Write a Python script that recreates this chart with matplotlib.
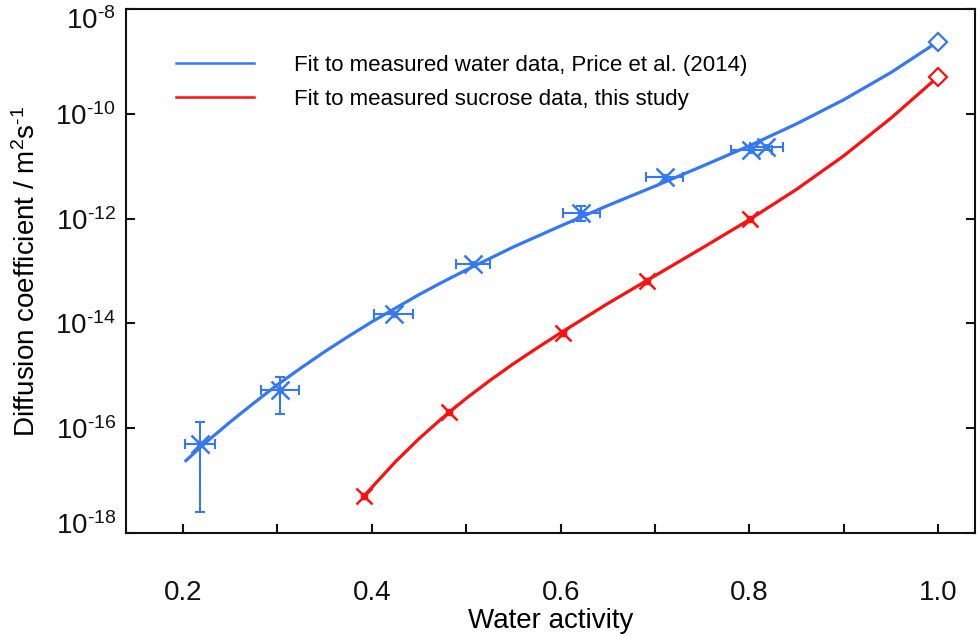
import numpy as np
import matplotlib
matplotlib.use("Agg")
import matplotlib.pyplot as plt
import matplotlib.transforms as mtransforms
from matplotlib.lines import Line2D
from matplotlib.ticker import FixedLocator, MultipleLocator, NullLocator, FuncFormatter

# =========================
# DATA
# =========================
# measured water diffusion (Price et al. 2014)
water_aw = [0.218, 0.303, 0.423, 0.507, 0.622, 0.710, 0.802, 0.818]
water_D = [4.9e-17, 5.4e-16, 1.5e-14, 1.35e-13, 1.26e-12, 6.2e-12, 2.0e-11, 2.3e-11]
water_aw_err = [0.016, 0.020, 0.021, 0.018, 0.020, 0.020, 0.022, 0.017]

# points that also carry a vertical error bar
water_yerr_aw = [0.218, 0.303, 0.622]
water_yerr_D = [4.9e-17, 5.4e-16, 1.26e-12]
water_yerr_low = [2.5e-18, 1.86e-16, 8.9e-13]
water_yerr_high = [1.32e-16, 9.5e-16, 1.74e-12]

# measured sucrose diffusion (this study)
sucrose_aw = [0.392, 0.482, 0.602, 0.691, 0.801]
sucrose_D = [5.1e-18, 2.0e-16, 6.6e-15, 6.5e-14, 9.8e-13]

# pure water limits (aw = 1)
pure_aw = 1.0
pure_water_D = 2.4e-9
pure_sucrose_D = 5.1e-10

# fit curves, log10(D)
water_fit_aw = [0.203, 0.225, 0.250, 0.275, 0.300, 0.325, 0.350, 0.375, 0.400, 0.425,
                0.450, 0.475, 0.500, 0.550, 0.600, 0.650, 0.700, 0.750, 0.800, 0.850,
                0.900, 0.950, 1.000]
water_fit_logD = [-16.62, -16.26, -15.88, -15.52, -15.17, -14.85, -14.54, -14.25, -13.97, -13.71,
                  -13.45, -13.21, -12.98, -12.54, -12.14, -11.75, -11.38, -11.00, -10.61, -10.19,
                  -9.73, -9.21, -8.62]

sucrose_fit_aw = [0.392, 0.400, 0.425, 0.450, 0.475, 0.500, 0.525, 0.550, 0.575, 0.600,
                  0.650, 0.700, 0.750, 0.800, 0.850, 0.900, 0.950, 1.000]
sucrose_fit_logD = [-17.29, -17.13, -16.64, -16.20, -15.80, -15.43, -15.09, -14.77, -14.47, -14.18,
                    -13.62, -13.09, -12.56, -12.02, -11.44, -10.80, -10.08, -9.29]

legend_labels = ["Fit to measured water data, Price et al. (2014)",
                 "Fit to measured sucrose data, this study"]

BLUE = "#3478f6"
RED = "#ff1010"

# =========================
# STYLE
# =========================
plt.rcParams["font.family"] = ["Liberation Sans", "DejaVu Sans"]
plt.rcParams["mathtext.fontset"] = "custom"
plt.rcParams["mathtext.rm"] = "Liberation Sans"
plt.rcParams["mathtext.it"] = "Liberation Sans:italic"
plt.rcParams["mathtext.default"] = "regular"

fig = plt.figure(figsize=(9.8, 6.36), dpi=100)
ax = fig.add_axes([0.1283, 0.162, 0.8666, 0.8238])

# =========================
# PLOT
# =========================
ax.plot(water_fit_aw, np.power(10.0, water_fit_logD), color=BLUE, lw=2.3,
        solid_joinstyle="round", zorder=2)
ax.plot(sucrose_fit_aw, np.power(10.0, sucrose_fit_logD), color=RED, lw=2.3,
        solid_joinstyle="round", zorder=2)

# water points: x error on all, y error on some
ax.errorbar(water_aw, water_D, xerr=water_aw_err, fmt="none", ecolor=BLUE,
            elinewidth=1.5, capsize=3.6, capthick=1.5, zorder=3)
yerr = [np.array(water_yerr_D) - np.array(water_yerr_low),
        np.array(water_yerr_high) - np.array(water_yerr_D)]
ax.errorbar(water_yerr_aw, water_yerr_D, yerr=yerr, fmt="none", ecolor=BLUE,
            elinewidth=1.5, capsize=3.6, capthick=1.5, zorder=3)
ax.plot(water_aw, water_D, ls="none", marker="x", ms=13, mew=1.8, color=BLUE, zorder=4)
ax.plot(water_aw, water_D, ls="none", marker="o", ms=4, color=BLUE, zorder=4)

ax.plot(sucrose_aw, sucrose_D, ls="none", marker="x", ms=11, mew=1.8, color=RED, zorder=4)
ax.plot(sucrose_aw, sucrose_D, ls="none", marker="s", ms=5, color=RED, zorder=4)

ax.plot([pure_aw], [pure_water_D], ls="none", marker="D", ms=9, mew=1.6,
        mfc="white", mec=BLUE, zorder=5)
ax.plot([pure_aw], [pure_sucrose_D], ls="none", marker="D", ms=9, mew=1.6,
        mfc="white", mec=RED, zorder=5)

# =========================
# AXES
# =========================
ax.set_yscale("log")
ax.set_xlim(0.1393, 1.0389)
ax.set_ylim(1e-18, 1e-8)

ax.yaxis.set_major_locator(FixedLocator([1e-18, 1e-16, 1e-14, 1e-12, 1e-10, 1e-8]))
ax.yaxis.set_major_formatter(FuncFormatter(
    lambda v, pos: r"$10^{\text{-}%d}$" % round(-np.log10(v))))
ax.yaxis.set_minor_locator(NullLocator())

ax.xaxis.set_major_locator(MultipleLocator(0.1))
ax.xaxis.set_major_formatter(FuncFormatter(
    lambda v, pos: f"{v:.1f}" if round(v * 10) % 2 == 0 else ""))

ax.tick_params(axis="both", which="major", direction="in", length=6.5, width=1.5,
               labelsize=20, colors="#111111")
ax.tick_params(axis="y", right=True, pad=7)
ax.tick_params(axis="x", pad=34)

for sp in ax.spines.values():
    sp.set_linewidth(1.5)
    sp.set_color("#111111")

# nudge the end labels of the y axis inward
fig.canvas.draw()
ylabels = ax.get_yticklabels()
ylabels[0].set_transform(ylabels[0].get_transform()
                         + mtransforms.ScaledTranslation(0, 10 / 100, fig.dpi_scale_trans))
ylabels[-1].set_transform(ylabels[-1].get_transform()
                          + mtransforms.ScaledTranslation(0, -9 / 100, fig.dpi_scale_trans))

ax.set_xlabel("Water activity", fontsize=20, labelpad=1)
ax.set_ylabel(r"Diffusion coefficient / m$^{2}$s$^{\text{-}1}$", fontsize=20, labelpad=10)

handles = [Line2D([], [], color=BLUE, lw=1.8), Line2D([], [], color=RED, lw=1.8)]
ax.legend(handles, legend_labels, loc="upper left", bbox_to_anchor=(0.059, 0.913),
          frameon=False, fontsize=16, handlelength=3.5, handletextpad=1.8,
          labelspacing=0.6, borderpad=0, borderaxespad=0)

fig.savefig("out.png", dpi=100)
